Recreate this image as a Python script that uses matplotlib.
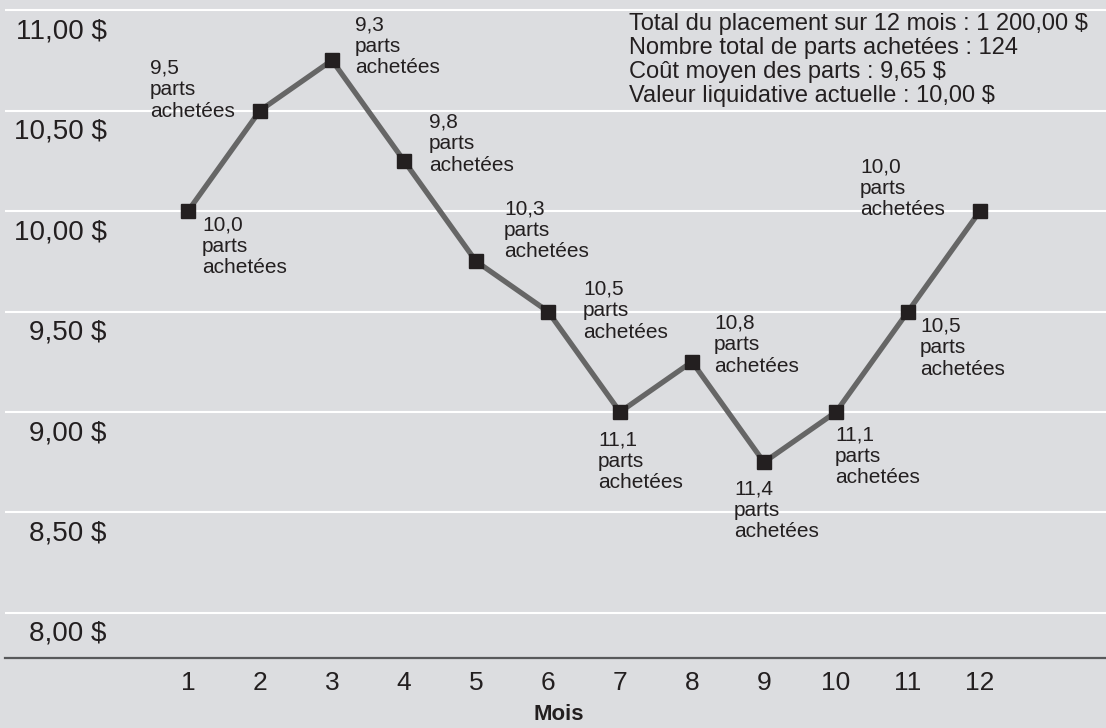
#!/usr/bin/env python3

import matplotlib
matplotlib.use("Agg")
import matplotlib.pyplot as plt

# data
months = list(range(1, 13))
prices = [10.00, 10.50, 10.75, 10.25, 9.75, 9.50, 9.00, 9.25, 8.75, 9.00, 9.50, 10.00]
shares = ["10,0", "9,5", "9,3", "9,8", "10,3", "10,5", "11,1", "10,8", "11,4", "11,1", "10,5", "10,0"]
y_ticks = [8.0, 8.5, 9.0, 9.5, 10.0, 10.5, 11.0]
y_labels = ["8,00 $", "8,50 $", "9,00 $", "9,50 $", "10,00 $", "10,50 $", "11,00 $"]
summary = ["Total du placement sur 12 mois : 1 200,00 $",
           "Nombre total de parts achetées : 124",
           "Coût moyen des parts : 9,65 $",
           "Valeur liquidative actuelle : 10,00 $"]

# label offsets (pixels from marker, left/top of text block)
offsets = [(14, -4), (-110, 52), (23, 45), (25, 48), (28, 62), (35, 32),
           (-22, -18), (22, 48), (-30, -17), (-1, -13), (12, -5), (-120, 54)]

bg = "#dcdde0"
ink = "#231f20"

plt.rcParams["font.family"] = ["Liberation Sans", "DejaVu Sans"]

fig = plt.figure(figsize=(11.06, 7.28), dpi=100, facecolor=bg)
ax = fig.add_axes([5 / 1106, 70 / 728, 1101 / 1106, 658 / 728])
ax.set_facecolor(bg)

ax.set_xlim(-1.542, 13.75)
ax.set_ylim(7.776, 11.05)

for v in y_ticks:
    ax.axhline(v, color="white", lw=1.5, zorder=1)

ax.plot(months, prices, color="#666666", lw=3.8, zorder=2)
ax.plot(months, prices, "s", color=ink, ms=10.5, zorder=3)

for v, lab in zip(y_ticks, y_labels):
    ax.annotate(lab, xy=(0.0926, v), xycoords=ax.get_yaxis_transform(),
                xytext=(0, -21), textcoords="offset pixels",
                ha="right", va="center", fontsize=20, color=ink)

for m, p, s, (dx, dy) in zip(months, prices, shares, offsets):
    ax.annotate(s + "\nparts\nachetées", xy=(m, p), xytext=(dx, dy),
                textcoords="offset pixels", ha="left", va="top",
                fontsize=15, color=ink, linespacing=1.17)

ax.text(624 / 1101, 1 - 13 / 658, "\n".join(summary), transform=ax.transAxes,
        ha="left", va="top", fontsize=17, color=ink, linespacing=1.12)

for side in ["top", "left", "right"]:
    ax.spines[side].set_visible(False)
ax.spines["bottom"].set_color("#58595b")
ax.spines["bottom"].set_linewidth(1.6)
ax.set_yticks([])
ax.set_xticks(months)
ax.set_xticklabels([str(m) for m in months], fontsize=19, color=ink)
ax.tick_params(axis="x", length=0, pad=9)

fig.text(559 / 1106, 13 / 728, "Mois", ha="center", va="center",
         fontsize=16, fontweight="bold", color=ink)

plt.savefig("out.png", dpi=100, facecolor=bg)
